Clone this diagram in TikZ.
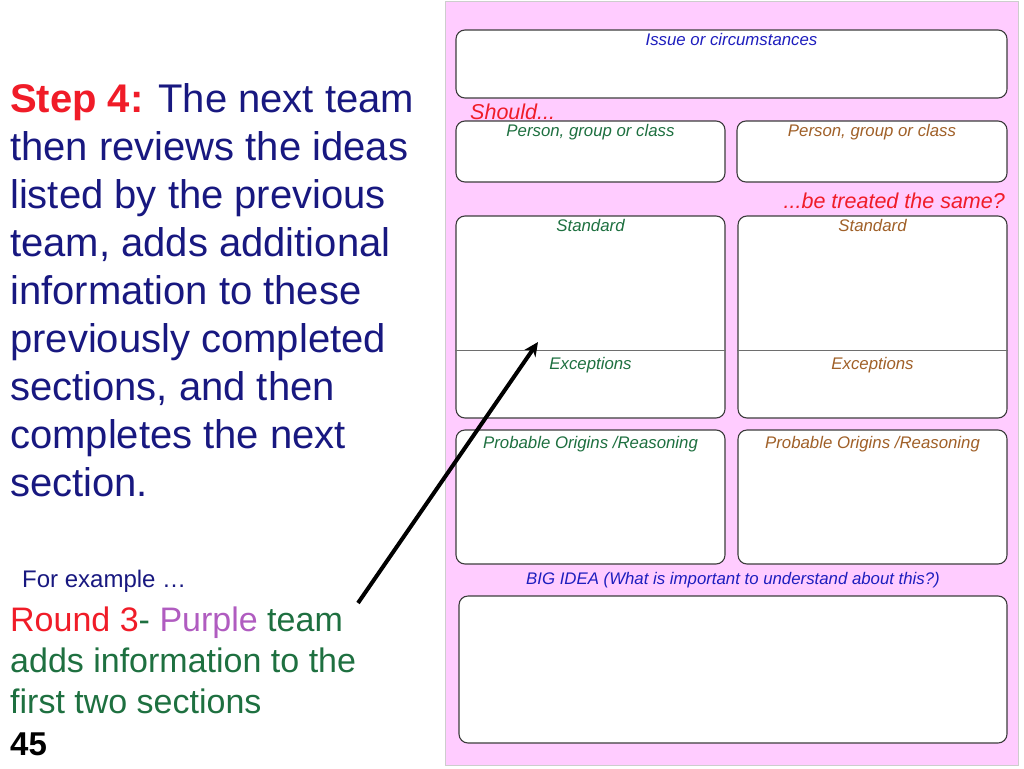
\documentclass[tikz,border=0pt]{standalone}
\usepackage{fontspec}
\setmainfont{Liberation Sans}
\usetikzlibrary{positioning,arrows.meta}

\definecolor{navytext}{RGB}{24,24,128}
\definecolor{stepred}{RGB}{240,28,40}
\definecolor{sheetpink}{RGB}{255,204,255}
\definecolor{sheetedge}{RGB}{205,205,205}
\definecolor{boxline}{RGB}{60,60,60}
\definecolor{splitline}{RGB}{110,110,110}
\definecolor{issueblue}{RGB}{30,30,190}
\definecolor{teamgreen}{RGB}{30,112,64}
\definecolor{teambrown}{RGB}{160,96,40}
\definecolor{purpleword}{RGB}{176,92,192}

\tikzset{
  sheetbox/.style={draw=boxline, fill=white, rounded corners=9pt, line width=1.1pt, inner sep=0pt},
  boxlabel/.style={font=\fontsize{16.8}{19}\selectfont\itshape, inner sep=0pt},
  pointer/.style={line width=4pt, -{Stealth[length=14pt,width=13pt]}},
}

\begin{document}
\begin{tikzpicture}[x=1pt,y=-1pt]
    \useasboundingbox (0,0) rectangle (1024,768);
    % pink sheet
    \fill[sheetpink, draw=sheetedge] (445,1) rectangle (1018,765);

    % boxes
    \node[sheetbox, minimum width=551pt, minimum height=68pt] (issue) at (731.5,64) {};
    \node[sheetbox, minimum width=269pt, minimum height=61pt] (persL) at (590.5,151.5) {};
    \node[sheetbox, minimum width=270pt, minimum height=61pt] (persR) at (872,151.5) {};
    \node[sheetbox, minimum width=269pt, minimum height=202pt] (stdL) at (590.5,317) {};
    \node[sheetbox, minimum width=269pt, minimum height=202pt] (stdR) at (872.5,317) {};
    \node[sheetbox, minimum width=269pt, minimum height=134pt] (origL) at (590.5,497) {};
    \node[sheetbox, minimum width=269pt, minimum height=134pt] (origR) at (872.5,497) {};
    \node[sheetbox, minimum width=548pt, minimum height=147pt] (big) at (733,669.5) {};
    % standard / exceptions split
    \draw[splitline, line width=1pt] (stdL.west |- 0,350) -- (stdL.east |- 0,350);
    \draw[splitline, line width=1pt] (stdR.west |- 0,350) -- (stdR.east |- 0,350);

    % box labels
    \node[boxlabel, text=issueblue, below=4pt of issue.north] (issuetxt) {Issue or circumstances};
    \node[boxlabel, text=teamgreen, below=4pt of persL.north] (persLtxt) {Person, group or class};
    \node[boxlabel, text=teambrown, below=4pt of persR.north] (persRtxt) {Person, group or class};
    \node[boxlabel, text=teamgreen, below=4pt of stdL.north] (stdLtxt) {Standard};
    \node[boxlabel, text=teambrown, below=4pt of stdR.north] (stdRtxt) {Standard};
    \node[boxlabel, text=teamgreen, anchor=north] (excLtxt) at (stdL.center |- 0,357) {Exceptions};
    \node[boxlabel, text=teambrown, anchor=north] (excRtxt) at (stdR.center |- 0,357) {Exceptions};
    \node[boxlabel, text=teamgreen, below=7pt of origL.north] (origLtxt) {Probable Origins /Reasoning};
    \node[boxlabel, text=teambrown, below=7pt of origR.north] (origRtxt) {Probable Origins /Reasoning};
    \node[boxlabel, text=issueblue, above=7pt of big.north] (bigtxt) {BIG IDEA (What is important to understand about this?)};
    \node[boxlabel, font=\fontsize{21.5}{24}\selectfont\itshape, text=stepred, anchor=base west] (should) at (470,119) {Should...};
    \node[boxlabel, font=\fontsize{21.5}{24}\selectfont\itshape, text=stepred, anchor=base east] (same) at (1005,208) {...be treated the same?};

    % left hand text
    \node[anchor=base west, align=left, inner sep=0pt, font=\fontsize{40}{48}\selectfont, text=navytext] (step) at (10,496)
        {\textcolor{stepred}{\bfseries Step 4:} The next team\\
         then reviews the ideas\\
         listed by the previous\\
         team, adds additional\\
         information to these\\
         previously completed\\
         sections, and then\\
         completes the next\\
         section.};
    \node[anchor=base west, inner sep=0pt, font=\fontsize{24}{28}\selectfont, text=navytext] (example) at (22,587) {For example …};
    \node[anchor=base west, align=left, inner sep=0pt, font=\fontsize{34}{41}\selectfont, text=teamgreen] (round) at (10,713)
        {\textcolor{stepred}{Round 3}- \textcolor{purpleword}{Purple} team\\
         adds information to the\\
         first two sections};
    \node[anchor=base west, inner sep=0pt, font=\fontsize{33}{36}\selectfont\bfseries] (page) at (10,755) {45};

    % arrow into the standard box
    \coordinate (tail) at (358,603);
    \coordinate (tip) at (538,342);
    \draw[pointer] (tail) -- (tip);
\end{tikzpicture}
\end{document}
